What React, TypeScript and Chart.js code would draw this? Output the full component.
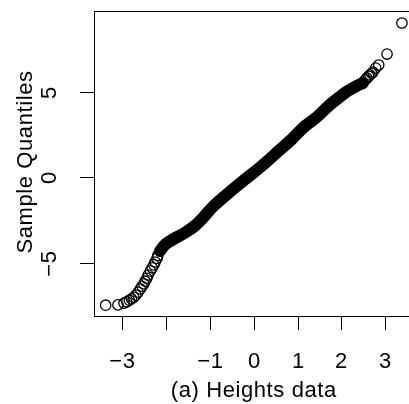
import React, { useEffect, useRef } from "react";
import { Chart, registerables } from "chart.js";

Chart.register(...registerables);

// Dense central part of the Q-Q plot (read along the solid band)
const bandTheoretical = [-2.14, -2.01, -1.83, -1.58, -1.35, -1.16, -0.94, -0.55, -0.16, 0.18, 0.59, 0.87, 1.12, 1.44, 1.73, 1.96, 2.14, 2.35, 2.49];
const bandSample = [-4.29, -3.88, -3.59, -3.24, -2.83, -2.36, -1.72, -0.85, -0.03, 0.67, 1.6, 2.24, 2.89, 3.53, 4.23, 4.69, 5.04, 5.34, 5.51];

// Individually visible points in the tails
const tailTheoretical = [-3.38, -3.1, -2.96, -2.9, -2.84, -2.79, -2.74, -2.69, -2.64, -2.59, -2.55, -2.51, -2.48, -2.44, -2.41, -2.36, -2.32, -2.28, -2.25, -2.21, -2.19, 2.54, 2.58, 2.62, 2.65, 2.69, 2.72, 2.78, 2.85, 3.04, 3.38];
const tailSample = [-7.45, -7.43, -7.33, -7.25, -7.16, -7.08, -6.99, -6.86, -6.7, -6.5, -6.35, -6.2, -6.05, -5.88, -5.69, -5.45, -5.27, -5.1, -4.93, -4.72, -4.55, 5.69, 5.8, 5.9, 5.98, 6.07, 6.15, 6.38, 6.56, 7.2, 9.01];

const xTicks = [-3, -2, -1, 0, 1, 2, 3];
const xTickLabels = ["\u22123", "", "\u22121", "0", "1", "2", "3"];
const yTicks = [-5, 0, 5];
const yTickLabels = ["\u22125", "0", "5"];
const xTitle = "(a) Heights data";
const yTitle = "Sample Quantiles";

const CW = 430;
const CH = 404;
const FONT = '22px "Liberation Sans", Arial, Helvetica, sans-serif';

const rAxesPlugin = {
  id: "rAxes",
  afterDraw(chart: any) {
    const ctx = chart.ctx as CanvasRenderingContext2D;
    const { left, top, right, bottom } = chart.chartArea;
    const xs = chart.scales.x;
    const ys = chart.scales.y;
    ctx.save();
    ctx.strokeStyle = "#000";
    ctx.fillStyle = "#000";
    ctx.lineWidth = 1;
    ctx.strokeRect(Math.round(left) + 0.5, Math.round(top) + 0.5, Math.round(right - left), Math.round(bottom - top));
    (ctx as any).letterSpacing = "0.6px";
    ctx.font = FONT;
    // x ticks
    ctx.textAlign = "center";
    ctx.textBaseline = "alphabetic";
    xTicks.forEach((v, i) => {
      const px = Math.round(xs.getPixelForValue(v)) + 0.5;
      ctx.beginPath();
      ctx.moveTo(px, Math.round(bottom));
      ctx.lineTo(px, Math.round(bottom) + 14);
      ctx.stroke();
      if (xTickLabels[i]) ctx.fillText(xTickLabels[i], px, 368);
    });
    // y ticks
    yTicks.forEach((v, i) => {
      const py = Math.round(ys.getPixelForValue(v)) + 0.5;
      ctx.beginPath();
      ctx.moveTo(Math.round(left), py);
      ctx.lineTo(Math.round(left) - 14, py);
      ctx.stroke();
      ctx.save();
      ctx.translate(56, py);
      ctx.rotate(-Math.PI / 2);
      ctx.textAlign = "center";
      ctx.fillText(yTickLabels[i], 0, 0);
      ctx.restore();
    });
    // titles
    ctx.textAlign = "center";
    ctx.fillText(xTitle, (left + right) / 2, 397);
    ctx.save();
    ctx.translate(32, 162);
    ctx.rotate(-Math.PI / 2);
    ctx.fillText(yTitle, 0, 0);
    ctx.restore();
    ctx.restore();
  },
};

export default function App() {
  const ref = useRef<HTMLCanvasElement | null>(null);
  useEffect(() => {
    if (!ref.current) return;
    const left = 94;
    const top = 11;
    const bottom = 316;
    const right = 413.6;
    const chart = new Chart(ref.current, {
      type: "scatter",
      data: {
        datasets: [
          {
            data: bandTheoretical.map((x, i) => ({ x, y: bandSample[i] })),
            showLine: true,
            borderColor: "#000",
            borderWidth: 12,
            borderCapStyle: "round",
            borderJoinStyle: "round",
            pointRadius: 0,
            tension: 0.3,
            backgroundColor: "transparent",
          } as any,
          {
            data: tailTheoretical.map((x, i) => ({ x, y: tailSample[i] })),
            showLine: false,
            pointStyle: "circle",
            pointRadius: 5.2,
            borderColor: "#000",
            borderWidth: 1.3,
            backgroundColor: "transparent",
          } as any,
        ],
      },
      options: {
        animation: false,
        responsive: false,
        maintainAspectRatio: false,
        devicePixelRatio: 1,
        layout: { padding: { left, top, right: CW - right, bottom: CH - bottom } },
        plugins: { legend: { display: false }, tooltip: { enabled: false } },
        scales: {
          x: { type: "linear", min: -3.646, max: 3.646, display: false },
          y: { type: "linear", min: -8.08, max: 9.71, display: false },
        },
      },
      plugins: [rAxesPlugin],
    });
    return () => chart.destroy();
  }, []);
  return (
    <div style={{ position: "absolute", left: 0, top: 0, width: 409, height: 404, overflow: "hidden", background: "#fff" }}>
      <canvas ref={ref} width={CW} height={CH} style={{ width: CW, height: CH, display: "block" }} />
    </div>
  );
}
